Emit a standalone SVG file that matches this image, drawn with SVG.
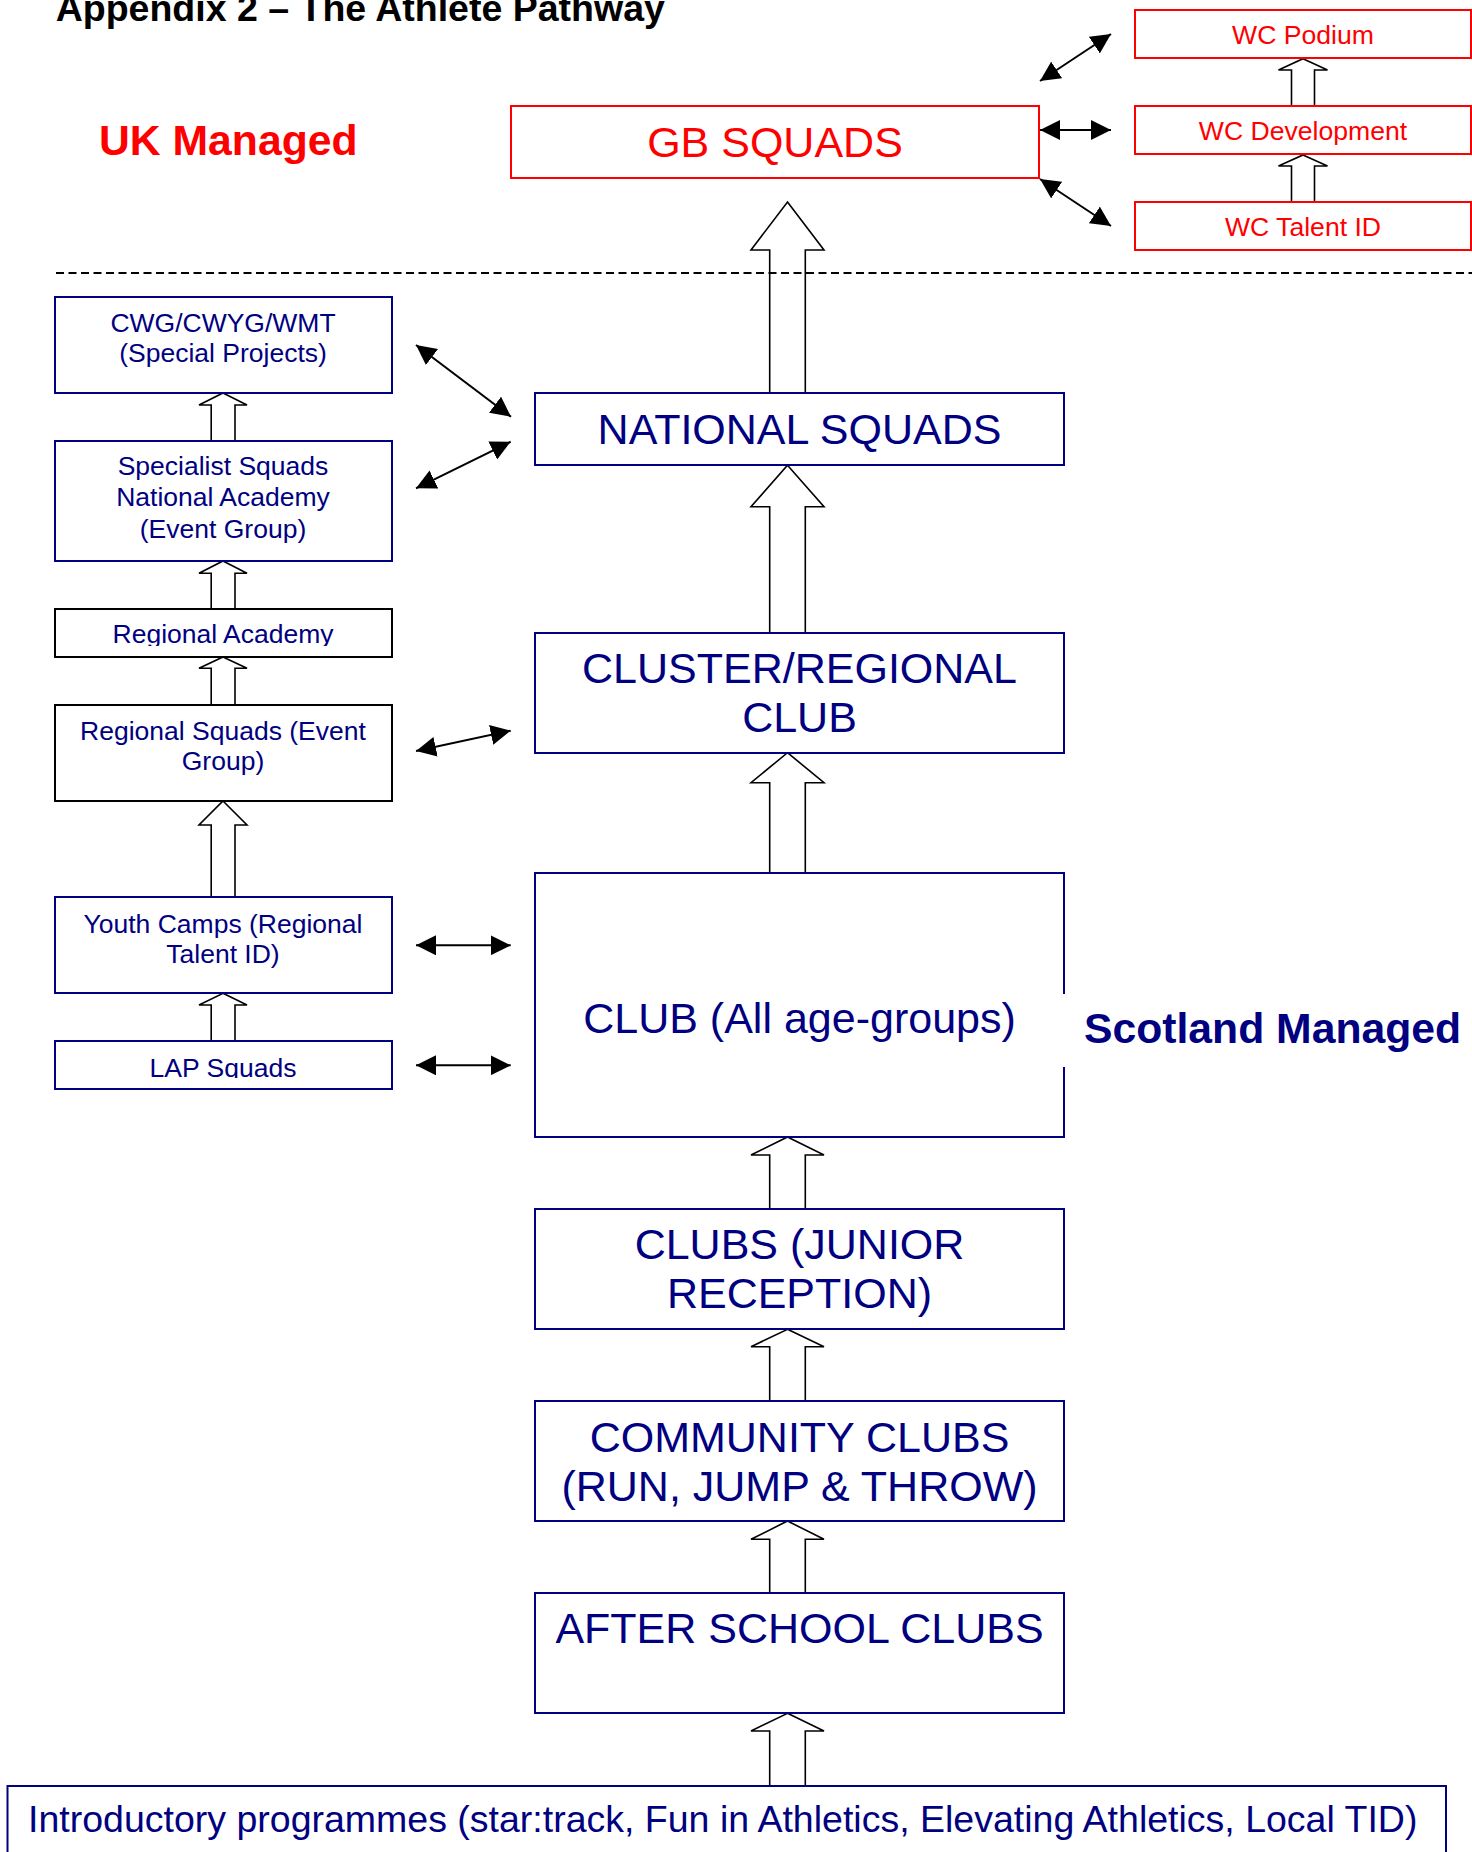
<svg xmlns="http://www.w3.org/2000/svg" width="1472" height="1852" viewBox="0 0 1472 1852">
<style>
  text { font-family: "Liberation Sans", Arial, sans-serif; }
  .bx { fill: #ffffff; stroke: #000080; stroke-width: 2; }
  .bxk { fill: #ffffff; stroke: #000000; stroke-width: 2; }
  .bxr { fill: #ffffff; stroke: #ff0000; stroke-width: 2; }
  .tm { fill: #000080; font-size: 43px; text-anchor: middle; }
  .ts { fill: #000080; font-size: 26.5px; text-anchor: middle; }
  .tr { fill: #ff0000; font-size: 26.6px; text-anchor: middle; }
  .hol { fill: #ffffff; stroke: #000000; stroke-width: 1.6; stroke-linejoin: miter; }
  .dbl { stroke: #000000; stroke-width: 2; fill: none; marker-start: url(#ah); marker-end: url(#ah); }
</style>
<defs>
  <marker id="ah" viewBox="0 0 20 20" refX="20" refY="10" markerWidth="20" markerHeight="20" markerUnits="userSpaceOnUse" orient="auto-start-reverse">
    <path d="M0,0 L20,10 L0,20 z" fill="#000000"/>
  </marker>
  <clipPath id="clipRA"><rect x="55" y="609" width="337" height="37"/></clipPath>
  <clipPath id="clipLAP"><rect x="55" y="1041" width="337" height="37"/></clipPath>
</defs>
<rect width="1472" height="1852" fill="#ffffff"/>

<text x="55.7" y="20.5" font-size="37.5" font-weight="bold" fill="#000000">Appendix 2 – The Athlete Pathway</text>
<text id="uk-managed" x="99" y="155" font-size="42.7" font-weight="bold" fill="#ff0000">UK Managed</text>

<!-- hollow arrows (connectors) -->
<g id="connectors">
  <path class="hol" d="M787.5,202 L824,250 L805.3,250 L805.3,392.7 L769.7,392.7 L769.7,250 L751,250 Z"/>
  <path class="hol" d="M787.5,465.3 L824,506.7 L805.3,506.7 L805.3,633 L769.7,633 L769.7,506.7 L751,506.7 Z"/>
  <path class="hol" d="M787.5,752.7 L824,782.7 L805.3,782.7 L805.3,873 L769.7,873 L769.7,782.7 L751,782.7 Z"/>
  <path class="hol" d="M787.5,1137 L824,1155 L805.3,1155 L805.3,1209 L769.7,1209 L769.7,1155 L751,1155 Z"/>
  <path class="hol" d="M787.5,1329.3 L824,1346.7 L805.3,1346.7 L805.3,1401 L769.7,1401 L769.7,1346.7 L751,1346.7 Z"/>
  <path class="hol" d="M787.5,1521 L824,1539.3 L805.3,1539.3 L805.3,1593 L769.7,1593 L769.7,1539.3 L751,1539.3 Z"/>
  <path class="hol" d="M787.5,1713.3 L824,1731 L805.3,1731 L805.3,1786 L769.7,1786 L769.7,1731 L751,1731 Z"/>

  <path class="hol" d="M223,393 L247,405 L235,405 L235,441 L211.2,441 L211.2,405 L199,405 Z"/>
  <path class="hol" d="M223,561 L247,573.3 L235,573.3 L235,609 L211.2,609 L211.2,573.3 L199,573.3 Z"/>
  <path class="hol" d="M223,657 L247,668.3 L235,668.3 L235,705 L211.2,705 L211.2,668.3 L199,668.3 Z"/>
  <path class="hol" d="M223,801 L247,825 L235,825 L235,897 L211.2,897 L211.2,825 L199,825 Z"/>
  <path class="hol" d="M223,993.3 L247,1005 L235,1005 L235,1041 L211.2,1041 L211.2,1005 L199,1005 Z"/>

  <path class="hol" d="M1303,58.7 L1327.5,70 L1314.5,70 L1314.5,106 L1291.5,106 L1291.5,70 L1278.5,70 Z"/>
  <path class="hol" d="M1303,155 L1327.5,166 L1314.5,166 L1314.5,202 L1291.5,202 L1291.5,166 L1278.5,166 Z"/>

  <line class="dbl" x1="1040" y1="81" x2="1111" y2="34"/>
  <line class="dbl" x1="1040" y1="130" x2="1111" y2="130"/>
  <line class="dbl" x1="1040" y1="179" x2="1111" y2="226"/>
  <line class="dbl" x1="416" y1="345" x2="511" y2="416.7"/>
  <line class="dbl" x1="416" y1="488.3" x2="510.7" y2="441.7"/>
  <line class="dbl" x1="416" y1="751" x2="510.7" y2="730.7"/>
  <line class="dbl" x1="416" y1="945.3" x2="510.7" y2="945.3"/>
  <line class="dbl" x1="416" y1="1065.3" x2="510.7" y2="1065.3"/>
</g>

<line id="divider" x1="56" y1="273" x2="1472" y2="273" stroke="#000000" stroke-width="2" stroke-dasharray="8,4.5"/>

<g id="gb-squads"><rect class="bxr" x="511" y="106" width="528" height="72"/><text x="775" y="157" font-size="43" fill="#ff0000" text-anchor="middle">GB SQUADS</text></g>
<g id="wc-podium"><rect class="bxr" x="1135" y="10" width="336" height="48"/><text class="tr" x="1303" y="44">WC Podium</text></g>
<g id="wc-development"><rect class="bxr" x="1135" y="106" width="336" height="48"/><text class="tr" x="1303" y="140">WC Development</text></g>
<g id="wc-talent-id"><rect class="bxr" x="1135" y="202" width="336" height="48"/><text class="tr" x="1303" y="236">WC Talent ID</text></g>

<g id="cwg"><rect class="bx" x="55" y="297" width="337" height="96"/><text class="ts" x="223" y="331.7">CWG/CWYG/WMT</text><text class="ts" x="223" y="361.7">(Special Projects)</text></g>
<g id="specialist"><rect class="bx" x="55" y="441" width="337" height="120"/><text class="ts" x="223" y="474.7">Specialist Squads</text><text class="ts" x="223" y="506.3">National Academy</text><text class="ts" x="223" y="538">(Event Group)</text></g>
<g id="regional-academy"><rect class="bxk" x="55" y="609" width="337" height="48"/><text class="ts" x="223" y="643.3" clip-path="url(#clipRA)">Regional Academy</text></g>
<g id="regional-squads"><rect class="bxk" x="55" y="705" width="337" height="96"/><text class="ts" x="223" y="740">Regional Squads (Event</text><text class="ts" x="223" y="770">Group)</text></g>
<g id="youth-camps"><rect class="bx" x="55" y="897" width="337" height="96"/><text class="ts" x="223" y="933.3">Youth Camps (Regional</text><text class="ts" x="223" y="963.3">Talent ID)</text></g>
<g id="lap-squads"><rect class="bx" x="55" y="1041" width="337" height="48"/><text class="ts" x="223" y="1076.7" clip-path="url(#clipLAP)">LAP Squads</text></g>

<g id="national-squads"><rect class="bx" x="535" y="393" width="529" height="72"/><text class="tm" x="799.5" y="444">NATIONAL SQUADS</text></g>
<g id="cluster"><rect class="bx" x="535" y="633" width="529" height="120"/><text class="tm" x="799.5" y="683.3">CLUSTER/REGIONAL</text><text class="tm" x="799.5" y="731.7">CLUB</text></g>
<g id="club-all"><rect class="bx" x="535" y="873" width="529" height="264"/><text class="tm" x="799.5" y="1032.7">CLUB (All age-groups)</text></g>
<g id="scotland-managed"><rect x="1063" y="994" width="4" height="73" fill="#ffffff"/><text x="1084" y="1043.3" font-size="42.7" font-weight="bold" fill="#000080">Scotland Managed</text></g>
<g id="clubs-junior"><rect class="bx" x="535" y="1209" width="529" height="120"/><text class="tm" x="799.5" y="1259.3">CLUBS (JUNIOR</text><text class="tm" x="799.5" y="1308.3">RECEPTION)</text></g>
<g id="community"><rect class="bx" x="535" y="1401" width="529" height="120"/><text class="tm" x="799.5" y="1451.7">COMMUNITY CLUBS</text><text class="tm" x="799.5" y="1500.7">(RUN, JUMP &amp; THROW)</text></g>
<g id="after-school"><rect class="bx" x="535" y="1593" width="529" height="120"/><text class="tm" x="799.5" y="1643.3">AFTER SCHOOL CLUBS</text></g>
<g id="introductory"><rect class="bx" x="7.5" y="1786" width="1438.5" height="100"/><text x="28" y="1831.7" font-size="37.5" fill="#000080">Introductory programmes (star:track, Fun in Athletics, Elevating Athletics, Local TID)</text></g>
</svg>
